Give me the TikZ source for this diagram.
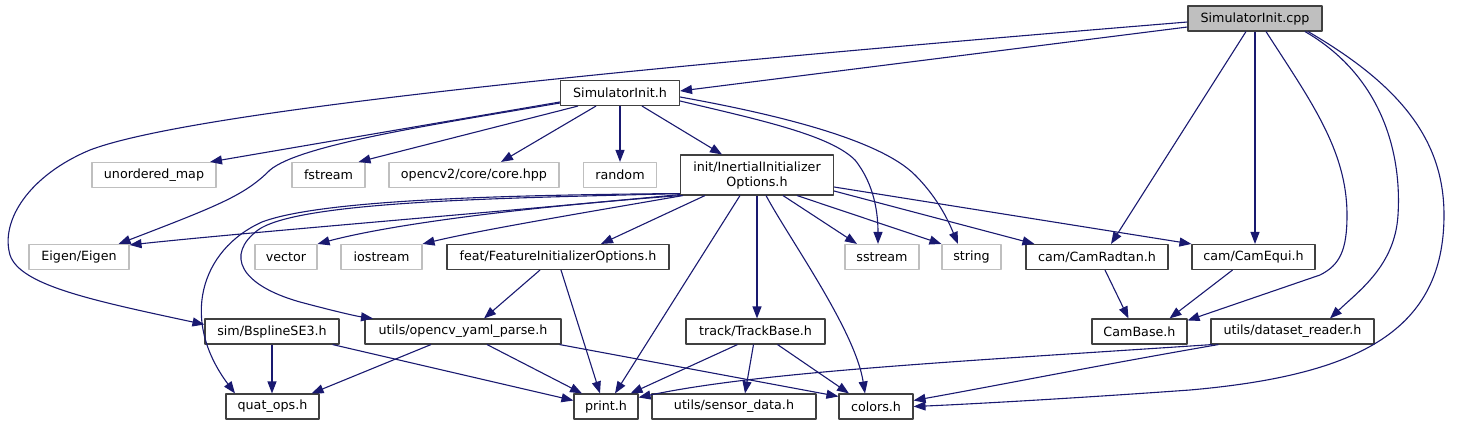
\documentclass[tikz,border=0pt]{standalone}
\usepackage{fontspec}
\setmainfont{DejaVu Sans}
\usetikzlibrary{arrows.meta}
\definecolor{edgeblue}{HTML}{191970}
\definecolor{curgray}{HTML}{BFBFBF}
\begin{document}
\begin{tikzpicture}[x=1pt,y=-1pt,>={Triangle[length=12pt,width=9pt]},line join=round,
	font=\fontsize{12.7}{15}\selectfont,
	hdr/.style={draw=black!75,fill=white,line width=1.1pt,minimum height=25pt,inner sep=0pt},
	sys/.style={hdr,draw=curgray},
	cur/.style={hdr,fill=curgray},
	dep/.style={draw=edgeblue,line width=1.1pt,->}]
		\useasboundingbox (0,0) rectangle (1462,425);
		% rows of headers
		\node[cur,minimum width=134] (cpp) at (1255,18.5) {SimulatorInit.cpp};
		\node[hdr,minimum width=119] (simh) at (620,93) {SimulatorInit.h};
		\node[sys,minimum width=124] (umap) at (154,175) {unordered\_map};
		\node[sys,minimum width=73] (fstr) at (328.5,175) {fstream};
		\node[sys,minimum width=170] (ocv) at (474,175) {opencv2/core/core.hpp};
		\node[sys,minimum width=73] (rnd) at (620,175) {random};
		\node[hdr,minimum width=153,minimum height=40,align=center] (init) at (757,175) {init/InertialInitializer\\Options.h};
		\node[sys,minimum width=100] (eigen) at (79,257) {Eigen/Eigen};
		\node[sys,minimum width=62] (vec) at (286,257) {vector};
		\node[sys,minimum width=81] (iostr) at (381.5,257) {iostream};
		\node[hdr,minimum width=222] (feat) at (558,257) {feat/FeatureInitializerOptions.h};
		\node[sys,minimum width=74] (sstr) at (882,257) {sstream};
		\node[sys,minimum width=59] (str) at (971.5,257) {string};
		\node[hdr,minimum width=142] (radtan) at (1097,257) {cam/CamRadtan.h};
		\node[hdr,minimum width=123] (equi) at (1253.5,257) {cam/CamEqui.h};
		\node[hdr,minimum width=134] (bspl) at (272,331.5) {sim/BsplineSE3.h};
		\node[hdr,minimum width=196] (yaml) at (463,331.5) {utils/opencv\_yaml\_parse.h};
		\node[hdr,minimum width=139] (track) at (755.5,331.5) {track/TrackBase.h};
		\node[hdr,minimum width=95] (cambase) at (1139.5,331.5) {CamBase.h};
		\node[hdr,minimum width=163] (dsr) at (1292.5,331.5) {utils/dataset\_reader.h};
		\node[hdr,minimum width=93] (quat) at (272.5,406.5) {quat\_ops.h};
		\node[hdr,minimum width=64] (print) at (606,406.5) {print.h};
		\node[hdr,minimum width=164] (sens) at (734,406.5) {utils/sensor\_data.h};
		\node[hdr,minimum width=74] (colors) at (876,406.5) {colors.h};
		% SimulatorInit.cpp
		\draw[dep] ([yshift=-8.5pt]cpp.west) -- ([yshift=2pt]simh.east);
		\draw[dep] ([yshift=-3.5pt]cpp.west) .. controls (700,62) and (200,108) .. (90,150)
			.. controls (30,175) and (0,220) .. (10,255)
			.. controls (20,285) and (90,300) .. ([yshift=7pt]bspl.west);
		\draw[dep] ([xshift=-9pt]cpp.south) -- ([xshift=14pt]radtan.north);
		\draw[dep] (cpp.south) -- (cpp.south |- equi.north);
		\draw[dep] ([xshift=11pt]cpp.south) .. controls (1310,100) and (1347,150) .. (1347,215)
			.. controls (1347,250) and (1340,265) .. (1320,275) -- ([yshift=-2pt]cambase.north east);
		\draw[dep] ([xshift=50pt]cpp.south) .. controls (1380,75) and (1402,150) .. (1398,215)
			.. controls (1395,265) and (1360,290) .. ([xshift=37.5pt]dsr.north);
		\draw[dep] ([xshift=53pt]cpp.south) .. controls (1400,85) and (1444,140) .. (1444,215)
			.. controls (1444,330) and (1360,375) .. (1190,390)
			.. controls (1050,400) and (950,405) .. (colors.east);
		% SimulatorInit.h
		\draw[dep] ([yshift=-9pt]simh.west) -- ([xshift=56pt]umap.north);
		\draw[dep] ([yshift=-10pt]simh.west) .. controls (430,125) and (300,145) .. (270,170)
			.. controls (245,195) and (220,205) .. ([xshift=-11pt]eigen.north east);
		\draw[dep] ([xshift=-42pt]simh.south) -- ([xshift=30pt]fstr.north);
		\draw[dep] ([xshift=-24pt]simh.south) -- ([xshift=27pt]ocv.north);
		\draw[dep] (simh.south) -- (rnd.north);
		\draw[dep] ([xshift=22pt]simh.south) -- ([xshift=-35pt]init.north);
		\draw[dep] ([yshift=-4pt]simh.east) .. controls (780,115) and (880,140) .. (915,175)
			.. controls (940,200) and (950,225) .. ([xshift=-13.5pt]str.north);
		\draw[dep] ([yshift=-8pt]simh.east) .. controls (760,120) and (830,135) .. (855,160)
			.. controls (875,185) and (878,215) .. ([xshift=-4pt]sstr.north);
		% init/InertialInitializerOptions.h
		\draw[dep] ([yshift=1pt]init.south west) .. controls (500,212) and (250,232) .. ([yshift=-1pt]eigen.north east);
		\draw[dep] ([xshift=1pt]init.south west) .. controls (550,205) and (400,222) .. (vec.north east);
		\draw[dep] ([xshift=3pt]init.south west) .. controls (600,210) and (480,230) .. (iostr.north east);
		\draw[dep] ([yshift=2pt]init.south west) .. controls (500,195) and (320,200) .. (262,222)
			.. controls (200,250) and (180,320) .. ([xshift=-37.5pt]quat.north);
		\draw[dep] ([yshift=2pt]init.south west) .. controls (520,198) and (300,200) .. (258,230)
			.. controls (225,255) and (240,285) .. (300,302)
			.. controls (330,310) and (355,316) .. ([xshift=-90pt]yaml.north);
		\draw[dep] ([xshift=-52pt]init.south) -- ([xshift=43pt]feat.north);
		\draw[dep] ([xshift=-17pt]init.south) -- ([xshift=9pt]print.north);
		\draw[dep] (init.south) -- (init.south |- track.north);
		\draw[dep] ([xshift=9pt]init.south) .. controls (790,240) and (855,330) .. ([xshift=-11pt]colors.north);
		\draw[dep] ([xshift=26pt]init.south) -- ([xshift=-25pt]sstr.north);
		\draw[dep] ([xshift=40pt]init.south) -- (str.north west);
		\draw[dep] ([yshift=-16pt]init.east) -- ([xshift=9pt]radtan.north west);
		\draw[dep] ([yshift=-12pt]init.east) -- (equi.north west);
		% second level
		\draw[dep] ([xshift=-18pt]feat.south) -- ([xshift=21pt]yaml.north);
		\draw[dep] ([xshift=3pt]feat.south) -- ([xshift=-6pt]print.north);
		\draw[dep] (bspl.south) -- (bspl.south |- quat.north);
		\draw[dep] ([xshift=-7pt]bspl.south east) -- ([yshift=6pt]print.west);
		\draw[dep] ([xshift=-32pt]yaml.south) -- ([xshift=-8pt]quat.north east);
		\draw[dep] ([xshift=24pt]yaml.south) -- ([xshift=-24pt]print.north);
		\draw[dep] ([xshift=-2pt]yaml.south east) -- ([yshift=-3pt]colors.north west);
		\draw[dep] ([xshift=-18pt]track.south) -- ([xshift=-8pt]print.north east);
		\draw[dep] ([xshift=-2pt]track.south) -- ([xshift=11pt]sens.north);
		\draw[dep] ([xshift=22pt]track.south) -- ([xshift=-27pt]colors.north);
		\draw[dep] ([xshift=8pt]radtan.south) -- ([xshift=-11pt]cambase.north);
		\draw[dep] ([xshift=-21pt]equi.south) -- ([xshift=30pt]cambase.north);
		\draw[dep] ([xshift=2pt]dsr.south west) .. controls (950,362) and (760,372) .. ([yshift=-4pt]print.north east);
		\draw[dep] ([xshift=8pt]dsr.south west) .. controls (1100,365) and (1000,385) .. ([yshift=6pt]colors.east);
\end{tikzpicture}
\end{document}
